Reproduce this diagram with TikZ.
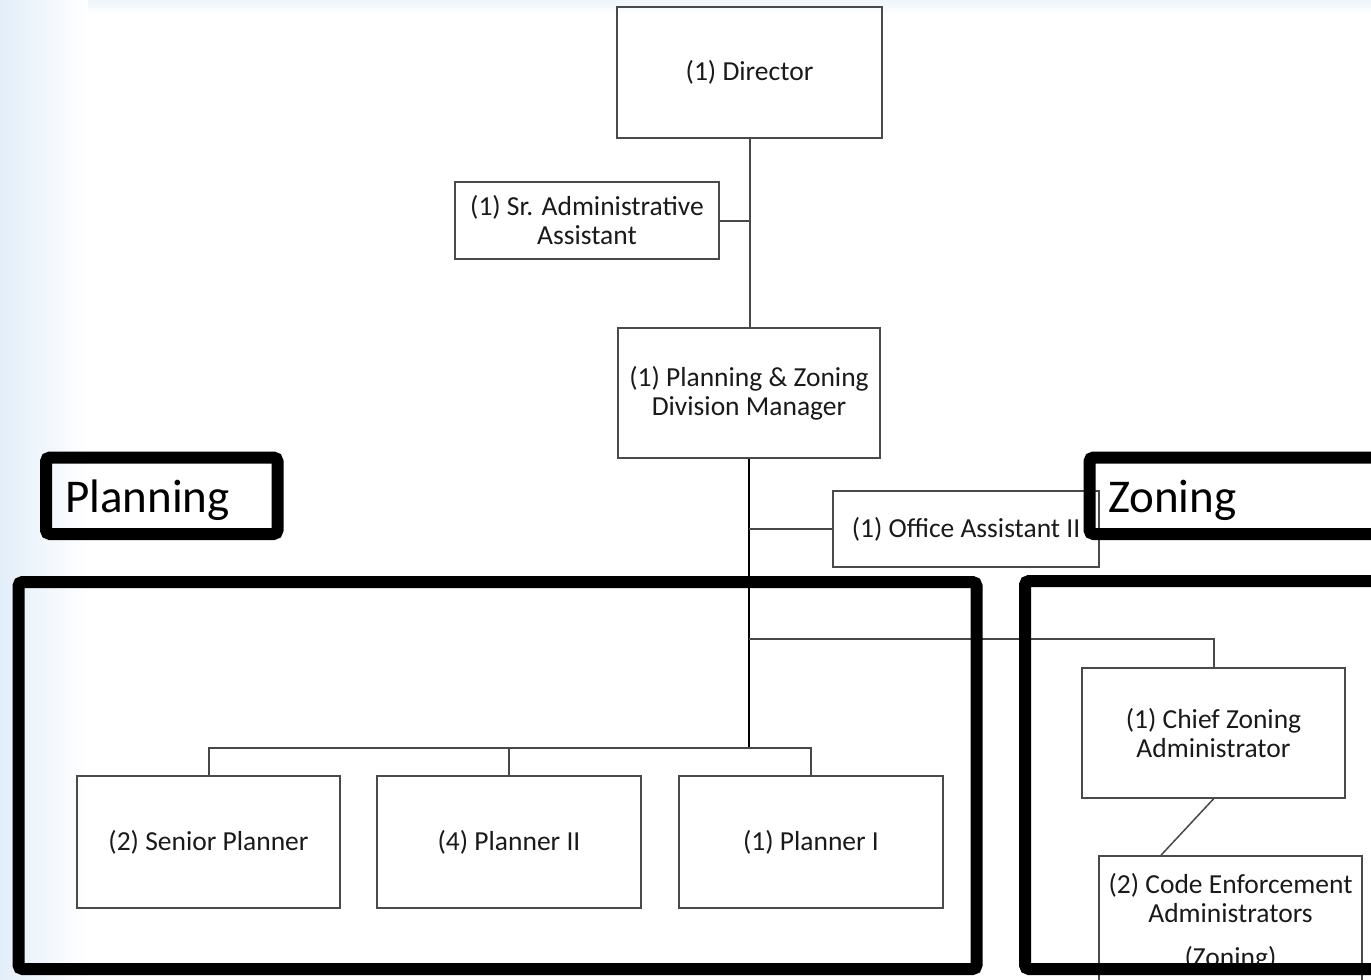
\documentclass[tikz,border=0pt]{standalone}
\usepackage{fontspec}
\setmainfont{Carlito}
\usetikzlibrary{calc}
\definecolor{boxgray}{HTML}{4A4A4A}
\definecolor{linegray}{HTML}{484848}
\definecolor{txt}{HTML}{1A1A1A}
\definecolor{bgblue}{HTML}{E3EEF9}
\begin{document}
\begin{tikzpicture}[x=1pt,y=-1pt,
  orgbox/.style={draw=boxgray,line width=1.8pt,inner sep=0pt,align=center,
    text=txt,font=\fontsize{27.5}{29}\selectfont},
  conn/.style={draw=linegray,line width=2pt},
  trunk/.style={draw=black,line width=2.8pt},
  frame/.style={draw=black,line width=12pt,rounded corners=4pt},
  lbl/.style={anchor=base west,inner sep=0pt,font=\fontsize{47}{50}\selectfont,text=black},
  cetext/.style={anchor=base,inner sep=0pt,text=txt,font=\fontsize{27.5}{29}\selectfont}]
\useasboundingbox (0,0) rectangle (1371,980);
\clip (0,0) rectangle (1371,980);
% background
\fill[white] (0,0) rectangle (1371,980);
\shade[top color=bgblue!60,bottom color=white] (0,0) rectangle (1371,14);
\shade[left color=bgblue,right color=white] (0,0) rectangle (88,980);

% boxes
\node[orgbox,minimum width=265pt,minimum height=131pt] (dir) at (749.5,72.5) {(1) Director};
\node[orgbox,minimum width=264pt,minimum height=77pt] (sra) at (587,220.5) {(1) Sr. Administrative\\Assistant};
\node[orgbox,minimum width=262pt,minimum height=130pt] (pzm) at (749,393) {(1) Planning \& Zoning\\Division Manager};
\node[orgbox,minimum width=266pt,minimum height=76pt] (oa) at (966,529) {(1) Office Assistant II};
\node[orgbox,minimum width=263pt,minimum height=130pt] (cza) at (1213.5,733) {(1) Chief Zoning\\Administrator};
\node[orgbox,minimum width=263pt,minimum height=204pt] (cea) at (1230.5,958) {};
\node[orgbox,minimum width=263pt,minimum height=132pt] (sp) at (208.5,842) {(2) Senior Planner};
\node[orgbox,minimum width=264pt,minimum height=132pt] (p2) at (509,842) {(4) Planner II};
\node[orgbox,minimum width=264pt,minimum height=132pt] (p1) at (811,842) {(1) Planner I};

\node[cetext] (cet1) at (1230.5,893) {(2) Code Enforcement};
\node[cetext] (cet2) at (1230.5,922) {Administrators};
\node[cetext] (cet3) at (1230.5,966) {(Zoning)};

% connectors
\coordinate (pb) at (749,748);
\coordinate (zj) at (749,639);
\coordinate (cetop) at ($(cea.north west)+(63,0)$);
\draw[conn] (dir.south) -- (dir.south |- pzm.north);
\draw[conn] (sra.east) -- (sra.east -| dir.south);
\draw[trunk] (pzm.south) -- (pb);
\draw[conn] (oa.west) -- (oa.west -| pzm.south);
\draw[conn] (zj) -| (cza.north);
\draw[conn] (sp.north) |- (pb) -| (p1.north);
\draw[conn] (p2.north) -- (p2.north |- pb);
\draw[conn,line width=1.5pt] (cza.south) -- (cetop);

% frames and labels
\draw[frame] (18.5,582) rectangle (976.5,969);
\draw[frame] (1025,581) rectangle (1420,969);
\draw[frame] (46,457.5) rectangle (277.5,534);
\draw[frame] (1089.5,457.5) rectangle (1420,534);
\node[lbl] (plab) at (65,512) {Planning};
\node[lbl] (zlab) at (1108,512) {Zoning};
\end{tikzpicture}
\end{document}
